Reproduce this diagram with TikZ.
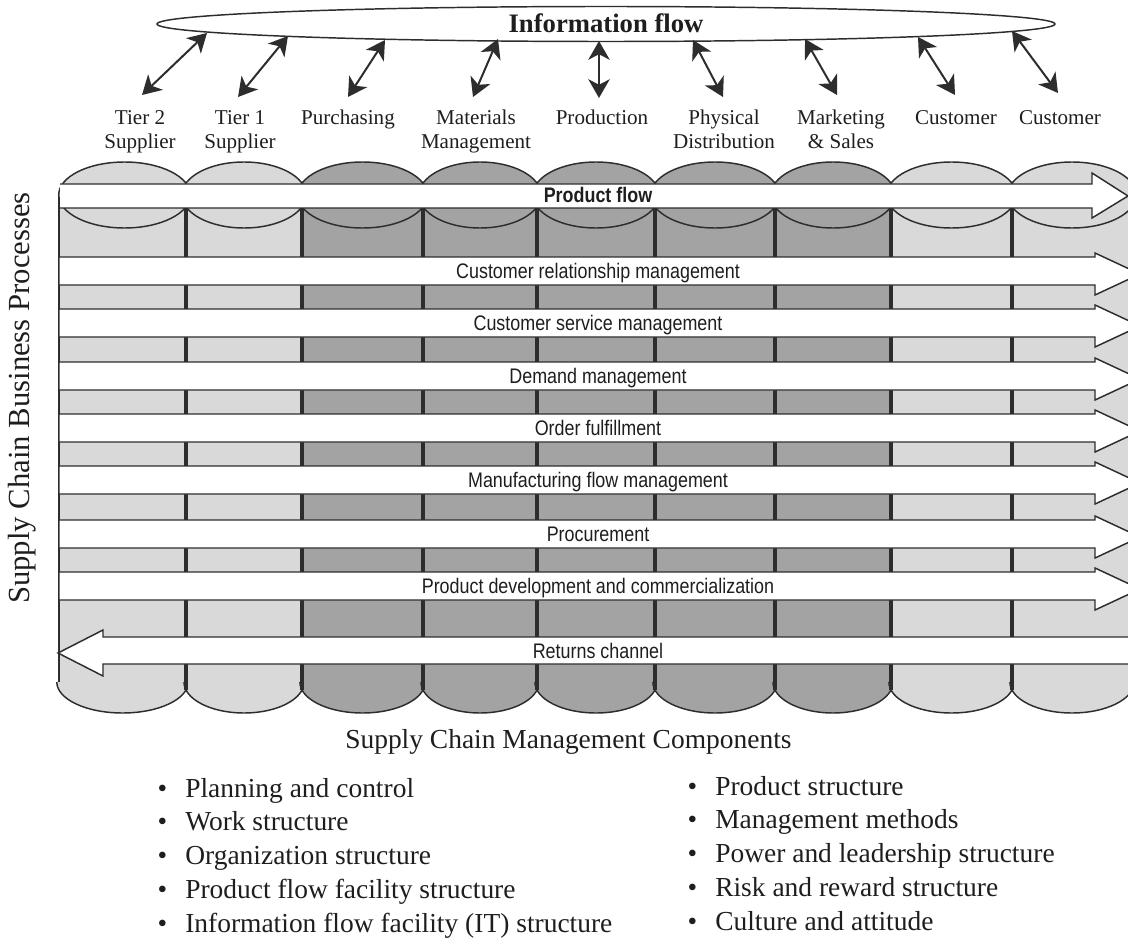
\documentclass[tikz,border=0pt]{standalone}
\usepackage{fontspec}
\setmainfont{Liberation Serif}
\newfontfamily\narrowsans[FakeStretch=0.85]{Liberation Sans}
\usetikzlibrary{arrows.meta}
\definecolor{ink}{RGB}{45,45,45}
\definecolor{lightcol}{RGB}{217,217,217}
\definecolor{darkcol}{RGB}{163,163,163}
\definecolor{txt}{RGB}{30,30,30}
\begin{document}
\begin{tikzpicture}[x=0.75pt,y=-0.75pt,
  outl/.style={draw=ink,line width=1.1pt},
  divider/.style={draw=ink,line width=2.3pt},
  bandline/.style={draw=ink,line width=1.1pt,line join=miter},
  bandtext/.style={font=\narrowsans\fontsize{15.8}{18}\selectfont,text=txt,anchor=base,inner sep=0pt},
  header/.style={font=\fontsize{15.8}{18.4}\selectfont,align=center,text=txt,inner sep=0pt},
  item/.style={font=\fontsize{20.6}{24}\selectfont,text=txt,anchor=base west,inner sep=0pt},
  infoarrow/.style={{Stealth[length=14pt,width=16pt,inset=4pt]}-{Stealth[length=14pt,width=16pt,inset=4pt]},line width=1.5pt,draw=ink},
]
\useasboundingbox (0,0) rectangle (1128,938);
\begin{scope}
\clip (0,0) rectangle (1128,938);
% cylinder bodies
\foreach \xl/\xr/\c in {59/186/lightcol,186/302/lightcol,302/423/darkcol,423/537/darkcol,537/655/darkcol,655/775/darkcol,775/891/darkcol,891/1012/lightcol,1012/1132/lightcol}{
  \fill[\c] (\xl,195) rectangle (\xr,682);
}
% top caps
\foreach \xl/\xr/\c in {63/186/lightcol,186/302/lightcol,302/423/darkcol,423/537/darkcol,537/655/darkcol,655/775/darkcol,775/891/darkcol,891/1012/lightcol,1012/1132/lightcol}{
  \pgfmathsetmacro\cx{(\xl+\xr)/2}
  \pgfmathsetmacro\ra{(\xr-\xl)/2}
  \filldraw[fill=\c,outl] (\cx,195) ellipse [x radius={\ra*1.07*0.75pt}, y radius={33*0.75pt}];
}
% bottom caps
\foreach \xl/\xr/\c in {59/186/lightcol,186/302/lightcol,302/423/darkcol,423/537/darkcol,537/655/darkcol,655/775/darkcol,775/891/darkcol,891/1012/lightcol,1012/1132/lightcol}{
  \pgfmathsetmacro\cx{(\xl+\xr)/2}
  \pgfmathsetmacro\ra{(\xr-\xl)/2}
  \filldraw[fill=\c,outl] ({\cx-\ra*1.035},682) arc [start angle=180, end angle=360, x radius={\ra*1.035*0.75pt}, y radius={31*0.75pt}];
}
\draw[outl] (59,197) -- (59,682);
\foreach \x in {186,302,423,537,655,775,891,1012}{
  \draw[divider] (\x,200) -- (\x,690);
}
% product flow band
\fill[white] (60,184) -- (1092,184) -- (1092,173) -- (1128,196) -- (1092,218) -- (1092,208) -- (60,208) -- cycle;
\draw[bandline] (60,184) -- (1092,184) -- (1092,173) -- (1128,196) -- (1092,218) -- (1092,208) -- (60,208);
\node[bandtext,font=\narrowsans\bfseries\fontsize{15.8}{18}\selectfont] (pflow) at (598,203) {Product flow};
% process bands
\foreach \t/\lab in {257/Customer relationship management,309/Customer service management,362/Demand management,414/Order fulfillment,466/Manufacturing flow management,520/Procurement,572/Product development and commercialization}{
  \fill[white] (59,\t) -- (1095,\t) -- (1095,\t-4) -- (1140,\t+17) -- (1095,\t+38) -- (1095,\t+28) -- (59,\t+28) -- cycle;
  \draw[bandline] (59,\t) -- (1095,\t) -- (1095,\t-4) -- (1140,\t+17) -- (1095,\t+38) -- (1095,\t+28) -- (59,\t+28) -- cycle;
  \node[bandtext] (b\t) at (598,\t+21.5) {\lab};
}
% returns channel
\fill[white] (1132,637) -- (103,637) -- (103,630) -- (58,653) -- (103,676) -- (103,664) -- (1132,664) -- cycle;
\draw[bandline] (1132,637) -- (103,637) -- (103,630) -- (58,653) -- (103,676) -- (103,664) -- (1132,664);
\node[bandtext] (ret) at (598,658) {Returns channel};
\end{scope}
% information flow
\filldraw[fill=white,outl] (606,24) ellipse [x radius={449*0.75pt}, y radius={17.5*0.75pt}];
\node[font=\bfseries\fontsize{20}{24}\selectfont,text=txt,anchor=base,inner sep=0pt] (info) at (606,33) {Information flow};
% arrow endpoints
\coordinate (t1) at (207,33);  \coordinate (h1) at (142,95);
\coordinate (t2) at (288,36);  \coordinate (h2) at (238,97);
\coordinate (t3) at (385,40);  \coordinate (h3) at (348,97);
\coordinate (t4) at (498,39);  \coordinate (h4) at (473,97);
\coordinate (t5) at (599,41);  \coordinate (h5) at (599,98);
\coordinate (t6) at (693,40);  \coordinate (h6) at (723,97);
\coordinate (t7) at (805,39);  \coordinate (h7) at (837,95);
\coordinate (t8) at (918,37);  \coordinate (h8) at (955,95);
\coordinate (t9) at (1012,31); \coordinate (h9) at (1058,93);
\foreach \i in {1,...,9}{\draw[infoarrow] (t\i) -- (h\i);}
% headers
\node[header] (c1) at (140,131.4) {\strut Tier 2\\\strut Supplier};
\node[header] (c2) at (240,131.4) {\strut Tier 1\\\strut Supplier};
\node[header] (c3) at (348,119.1) {\strut Purchasing};
\node[header] (c4) at (476,131.4) {\strut Materials\\\strut Management};
\node[header] (c5) at (602,119.1) {\strut Production};
\node[header] (c6) at (724,131.4) {\strut Physical\\\strut Distribution};
\node[header] (c7) at (841,131.4) {\strut Marketing\\\strut \& Sales};
\node[header] (c8) at (956,119.1) {\strut Customer};
\node[header] (c9) at (1060,119.1) {\strut Customer};
% side label
\node[font=\fontsize{23}{26}\selectfont,text=txt,rotate=90,inner sep=0pt] (side) at (22,398) {Supply Chain Business Processes};
% components
\node[item] (comp) at (345,748) {Supply Chain Management Components};
\node[item] (l1) at (185,797) {\llap{\textbullet\hspace{13.6pt}}Planning and control};
\node[item] (l2) at (185,830.8) {\llap{\textbullet\hspace{13.6pt}}Work structure};
\node[item] (l3) at (185,864.6) {\llap{\textbullet\hspace{13.6pt}}Organization structure};
\node[item] (l4) at (185,898.4) {\llap{\textbullet\hspace{13.6pt}}Product flow facility structure};
\node[item] (l5) at (185,932.2) {\llap{\textbullet\hspace{13.6pt}}Information flow facility (IT) structure};
\node[item] (r1) at (715,795) {\llap{\textbullet\hspace{13.6pt}}Product structure};
\node[item] (r2) at (715,828.8) {\llap{\textbullet\hspace{13.6pt}}Management methods};
\node[item] (r3) at (715,862.6) {\llap{\textbullet\hspace{13.6pt}}Power and leadership structure};
\node[item] (r4) at (715,896.4) {\llap{\textbullet\hspace{13.6pt}}Risk and reward structure};
\node[item] (r5) at (715,930.2) {\llap{\textbullet\hspace{13.6pt}}Culture and attitude};
\end{tikzpicture}
\end{document}
